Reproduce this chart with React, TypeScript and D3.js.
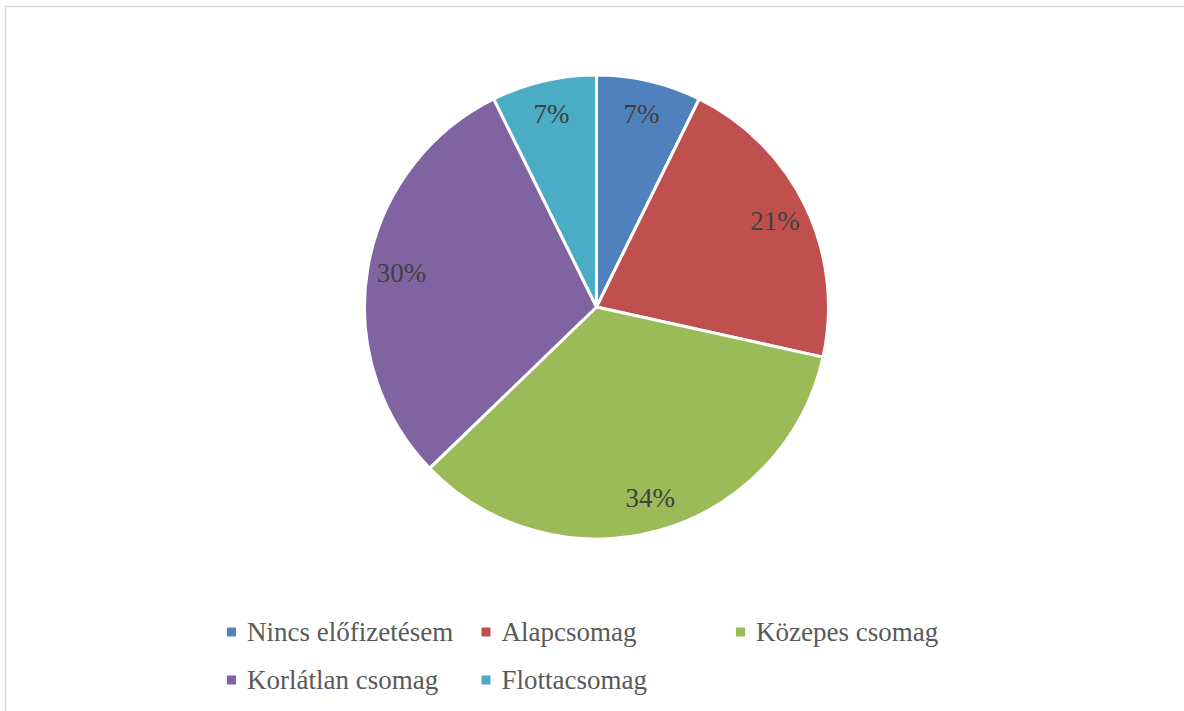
import React from "react";
import * as d3 from "d3";

const categories = ["Nincs előfizetésem", "Alapcsomag", "Közepes csomag", "Korlátlan csomag", "Flottacsomag"];
const values = [10, 29, 47, 41, 10];
const colors = ["#4F81BD", "#C0504D", "#9BBB59", "#8064A2", "#4BACC6"];

const W = 1184;
const H = 711;
const cx = 596.5;
const cy = 307;
const R = 232;
const labelR = 198;
const FONT = "'Liberation Serif', LiberationSerif, Tinos, 'Times New Roman', Times, 'Noto Serif', 'DejaVu Serif', FreeSerif, 'Nimbus Roman', 'Nimbus Roman No9 L', serif";

export default function App() {
  const total = d3.sum(values);
  const pie = d3.pie<number>().sort(null).value((d) => d)(values);
  const arc = d3.arc<d3.PieArcDatum<number>>().innerRadius(0).outerRadius(R);
  const labelArc = d3.arc<d3.PieArcDatum<number>>().innerRadius(labelR).outerRadius(labelR);

  const legendX = d3.scaleLinear().domain([0, 1]).range([227, 481.5]);
  const legendY = d3.scaleLinear().domain([0, 1]).range([632, 680]);
  const perRow = 3;

  return (
    <svg
      width={W}
      height={H}
      style={{ position: "absolute", left: 0, top: 0, background: "#fff", fontFamily: FONT }}
    >
      <rect x={5.5} y={6.5} width={W + 20} height={H + 20} fill="#fff" stroke="#d9d9d9" strokeWidth={1.5} />
      <g transform={`translate(${cx},${cy})`}>
        {pie.map((p, i) => (
          <path key={i} d={arc(p) || ""} fill={colors[i]} stroke="#fff" strokeWidth={3} strokeLinejoin="round" />
        ))}
        {pie.map((p, i) => {
          const [x, y] = labelArc.centroid(p);
          return (
            <text
              key={"l" + i}
              x={x}
              y={y}
              textAnchor="middle"
              dominantBaseline="central"
              style={{ fontFamily: FONT, fontSize: 27 }}
              fill="#404040"
            >
              {Math.round((values[i] / total) * 100) + "%"}
            </text>
          );
        })}
      </g>
      <g>
        {categories.map((c, i) => {
          const col = i % perRow;
          const row = Math.floor(i / perRow);
          const x = legendX(col);
          const y = legendY(row);
          return (
            <g key={"lg" + i}>
              <rect x={x} y={y - 4.5} width={9} height={9} fill={colors[i]} />
              <text
                x={x + 20}
                y={y}
                dominantBaseline="central"
                style={{ fontFamily: FONT, fontSize: 27 }}
                fill="#595959"
              >
                {c}
              </text>
            </g>
          );
        })}
      </g>
    </svg>
  );
}
